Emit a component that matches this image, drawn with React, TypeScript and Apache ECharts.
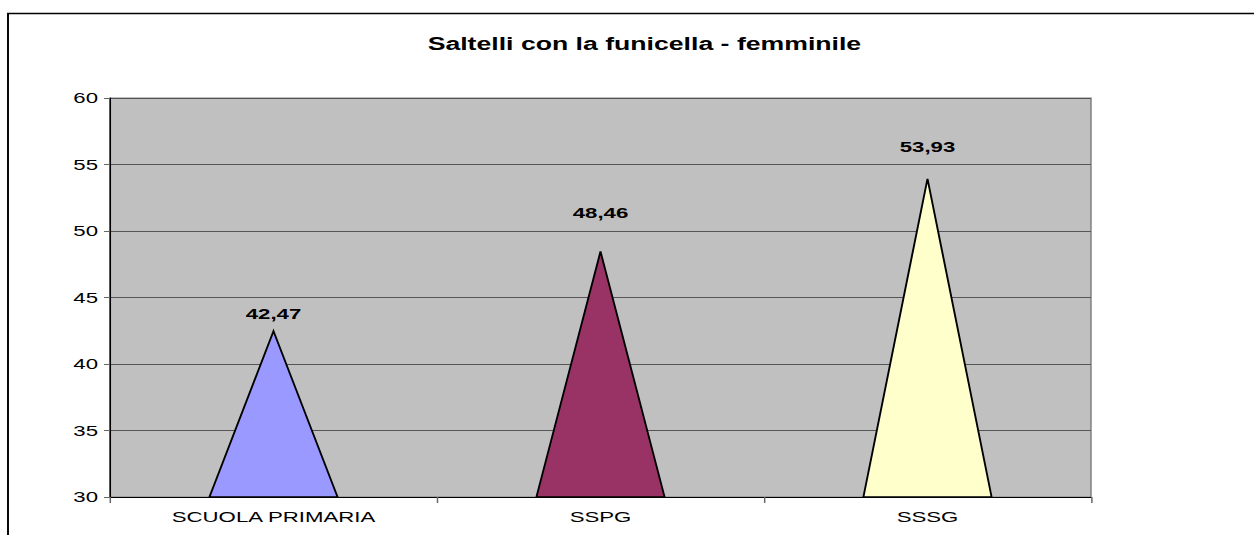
import React, { useEffect, useRef } from "react";
import * as echarts from "echarts";

const TITLE = "Saltelli con la funicella - femminile";
const categories = ["SCUOLA PRIMARIA", "SSPG", "SSSG"];
const values = [42.47, 48.46, 53.93];
const colors = ["#9999FF", "#993366", "#FFFFCC"];
// vertical gap (px) between each triangle's tip and its value label
const labelGaps = [10, 31, 24];
const yMin = 30;
const yMax = 60;
const yInterval = 5;

const FONT = "'Liberation Sans', Arial, sans-serif";
const W = 1254;
const H = 535;
const INNER_W = 847;
const SX = W / INNER_W;

export default function App() {
  const ref = useRef<HTMLDivElement>(null);

  useEffect(() => {
    if (!ref.current) return;
    const chart = echarts.init(ref.current, undefined, { renderer: "svg" });
    const option: any = {
      animation: false,
      backgroundColor: "#ffffff",
      title: {
        text: TITLE,
        left: 637 / SX,
        top: 30,
        textAlign: "center",
        textStyle: { fontFamily: FONT, fontSize: 18, fontWeight: "bold", color: "#000" },
      },
      graphic: [
        {
          type: "rect",
          shape: { x: 8 / SX, y: 13.5, width: 1000, height: 700 },
          style: { fill: "none", stroke: "#000", lineWidth: 1.3 },
          silent: true,
          z: -1,
        },
      ],
      grid: {
        left: 110 / SX,
        top: 98,
        right: 163 / SX,
        bottom: 38,
        show: true,
        backgroundColor: "#C0C0C0",
        borderColor: "#808080",
        borderWidth: 1,
      },
      xAxis: {
        type: "category",
        data: categories,
        boundaryGap: true,
        axisLine: { show: true, lineStyle: { color: "#000", width: 1 } },
        axisTick: { show: true, length: 6, lineStyle: { color: "#666" } },
        axisLabel: { margin: 12, fontFamily: FONT, fontSize: 15, color: "#000" },
        splitLine: { show: false },
      },
      yAxis: {
        type: "value",
        min: yMin,
        max: yMax,
        interval: yInterval,
        axisLine: { show: true, lineStyle: { color: "#000", width: 1 } },
        axisTick: { show: true, length: 6 / SX, lineStyle: { color: "#666" } },
        axisLabel: { margin: 12 / SX, fontFamily: FONT, fontSize: 15, color: "#000" },
        splitLine: { show: true, lineStyle: { color: "#555", width: 1 } },
      },
      series: [
        {
          type: "custom",
          data: values.map((v, i) => [i, v]),
          clip: false,
          renderItem: (params: any, api: any) => {
            const idx = api.value(0);
            const val = api.value(1);
            const top = api.coord([idx, val]);
            const base = api.coord([idx, yMin]);
            const bw = api.size([1, 0])[0] * 0.392;
            return {
              type: "group",
              children: [
                {
                  type: "polygon",
                  shape: {
                    points: [
                      [top[0], top[1]],
                      [base[0] + bw / 2, base[1]],
                      [base[0] - bw / 2, base[1]],
                    ],
                  },
                  style: { fill: colors[params.dataIndex], stroke: "#000", lineWidth: 1.3 },
                },
                {
                  type: "text",
                  x: top[0],
                  y: top[1] - labelGaps[params.dataIndex],
                  style: {
                    text: values[params.dataIndex].toFixed(2).replace(".", ","),
                    align: "center",
                    verticalAlign: "bottom",
                    fontFamily: FONT,
                    fontSize: 15,
                    fontWeight: "bold",
                    fill: "#000",
                  },
                },
              ],
            };
          },
        },
      ],
    };
    chart.setOption(option);
    return () => chart.dispose();
  }, []);

  return (
    <div
      style={{
        position: "fixed",
        left: 0,
        top: 0,
        width: W,
        height: H,
        overflow: "hidden",
        background: "#fff",
      }}
    >
      <div
        ref={ref}
        style={{
          width: INNER_W,
          height: H,
          transform: `scaleX(${SX})`,
          transformOrigin: "0 0",
        }}
      />
    </div>
  );
}
